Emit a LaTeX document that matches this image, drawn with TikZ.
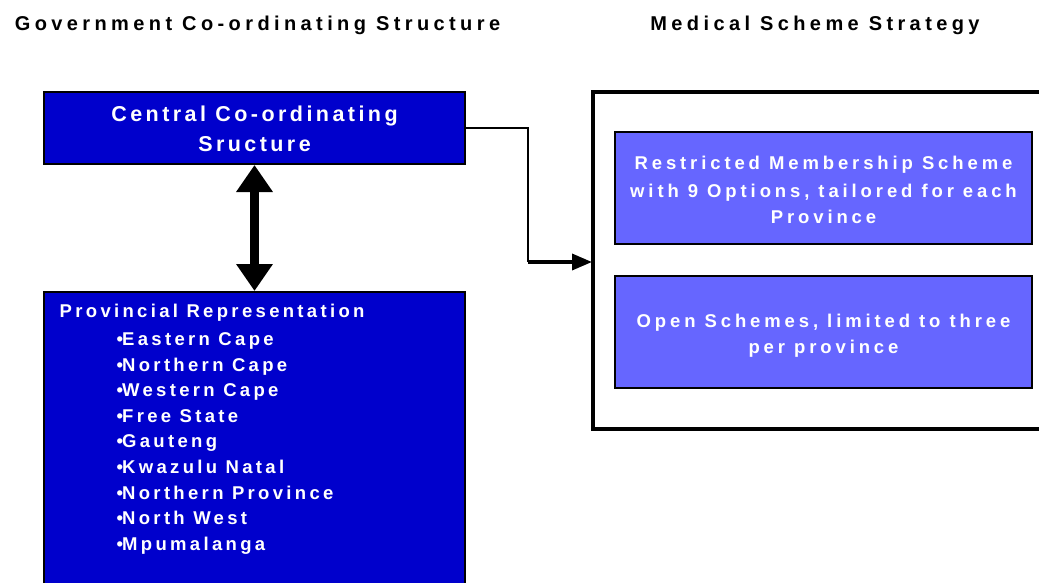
\documentclass[tikz,border=0pt]{standalone}
\usepackage{fontspec}
\setmainfont{Liberation Sans}
\newfontfamily\fTitle{Liberation Sans}[LetterSpace=22]
\newfontfamily\fCentral{Liberation Sans}[LetterSpace=16]
\newfontfamily\fList{Liberation Sans}[LetterSpace=18]
\newfontfamily\fRight{Liberation Sans}[LetterSpace=21]
\usetikzlibrary{arrows.meta}
\definecolor{darkblue}{HTML}{0000CC}
\definecolor{lightblue}{HTML}{6666FF}
\begin{document}
\begin{tikzpicture}[x=1pt,y=-1pt,
  title/.style={font=\fTitle\fontsize{20}{24}\selectfont\bfseries, text=black, inner sep=0pt, anchor=base},
  ctext/.style={font=\fCentral\fontsize{21.5}{26}\selectfont\bfseries, text=white, inner sep=0pt, anchor=base},
  ltext/.style={font=\fList\fontsize{18.5}{22}\selectfont\bfseries, text=white, inner sep=0pt, anchor=base west},
  rtext/.style={font=\fRight\fontsize{18.5}{22}\selectfont\bfseries, text=white, inner sep=0pt, anchor=base},
  darkbox/.style={draw=black, line width=1.8pt, fill=darkblue},
  lightbox/.style={draw=black, line width=1.8pt, fill=lightblue}]
\clip (0,0) rectangle (1039,583);
\fill[white] (0,0) rectangle (1039,583);
% titles
\node[title] (t1) at (257.5,31) {Government Co-ordinating Structure};
\node[title] (t2) at (815,31) {Medical Scheme Strategy};
% central box
\draw[darkbox] (44,92) rectangle (465,164);
\coordinate (centralE) at (465,128);
\coordinate (centralS) at (254.5,165);
\node[ctext] (c1) at (254.5,121.5) {Central Co-ordinating};
\node[ctext] (c2) at (254.5,151.5) {Sructure};
% provincial box
\draw[darkbox] (44,292) rectangle (465,600);
\coordinate (provN) at (254.5,291);
\node[ltext] (p0) at (59.5,317) {Provincial Representation};
\foreach \t [count=\i from 0] in {Eastern Cape,Northern Cape,Western Cape,Free State,Gauteng,Kwazulu Natal,Northern Province,North West,Mpumalanga}
  \node[ltext] (p\i) at (116.5,{345.5+25.6*\i}) {•\kern-1pt\t};
% double arrow
\draw[line width=9.5pt, {Triangle[width=35pt,length=27pt]}-{Triangle[width=35pt,length=27pt]}] (centralS) -- (provN);
% right outer box
\draw[line width=4pt] (593,92) rectangle (1050,429);
\coordinate (outerW) at (592,262);
\draw[lightbox] (615,132) rectangle (1032,244);
\node[rtext] (r1) at (823.5,170) {Restricted Membership Scheme};
\node[rtext] (r2) at (823.5,197) {with 9 Options, tailored for each};
\node[rtext] (r3) at (823.5,223.5) {Province};
\draw[lightbox] (615,276) rectangle (1032,388);
\node[rtext] (o1) at (823.5,327) {Open Schemes, limited to three};
\node[rtext] (o2) at (823.5,353.5) {per province};
% connector
\coordinate (bend) at (528,262);
\draw[line width=2pt] (centralE) -| (bend);
\draw[line width=3.5pt, -{Triangle[width=16pt,length=20pt]}] (bend) -- (outerW);
\end{tikzpicture}
\end{document}
